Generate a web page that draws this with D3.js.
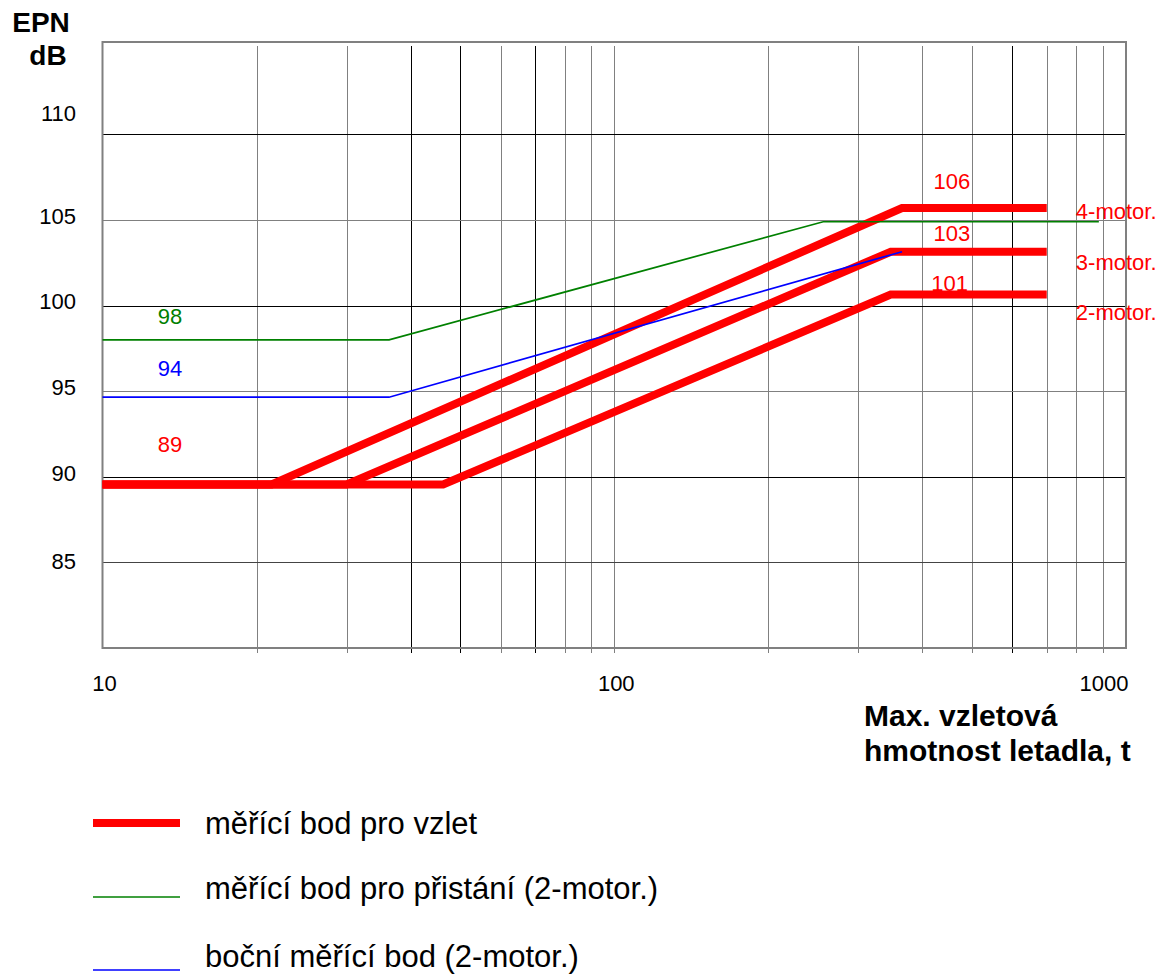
<!DOCTYPE html>
<html>
<head>
<meta charset="utf-8">
<script src="https://cdn.jsdelivr.net/npm/d3@7"></script>
<style>
  body { margin: 0; background: #fff; }
  text { font-family: "Liberation Sans", Arial, sans-serif; }
</style>
</head>
<body>
<div id="chart"></div>
<script>
// data: [max take-off mass t, EPN dB]
var takeoff2 = [[10, 89.55], [46.3, 89.55], [347, 100.65], [700, 100.65]];
var takeoff3 = [[10, 89.55], [30, 89.55], [347, 103.15], [700, 103.15]];
var takeoff4 = [[10, 89.55], [21.4, 89.55], [365, 105.7], [700, 105.7]];
var approach = [[10, 98.0], [36.3, 98.0], [256, 104.9], [885, 104.9]];
var lateral  = [[10, 94.65], [36.3, 94.65], [365, 103.15]];

var yTicks = [85, 90, 95, 100, 105, 110];
var xTickLabels = [10, 100, 1000];
var legendLabels = ["měřící bod pro vzlet", "měřící bod pro přistání (2-motor.)", "boční měřící bod (2-motor.)"];

// value labels, placed in data space [t, dB]
var valueLabels = [
  {text: "98", t: 13.55, db: 99.36, color: "#008000"},
  {text: "94", t: 13.55, db: 96.32, color: "#0000ff"},
  {text: "89", t: 13.55, db: 91.88, color: "#ff0000"},
  {text: "106", t: 457, db: 107.24, color: "#ff0000"},
  {text: "103", t: 457, db: 104.2, color: "#ff0000"},
  {text: "101", t: 452, db: 101.28, color: "#ff0000"}
];
var motorLabels = [
  {text: "4-motor.", t: 798, db: 105.49},
  {text: "3-motor.", t: 798, db: 102.51},
  {text: "2-motor.", t: 798, db: 99.59}
];

var W = 1162, H = 974;
var svg = d3.select("#chart").append("svg")
  .attr("width", W)
  .attr("height", H);

svg.append("rect").attr("width", W).attr("height", H).attr("fill", "#fff");

var x = d3.scaleLog().domain([10, 1000]).range([102.5, 1126]);
var y = d3.scaleLinear().domain([80, 115.4]).range([648, 42]);

// vertical grid (minor log ticks) with little tick stubs below
var blackV = [40, 50, 70, 600];
svg.append("g").selectAll("line")
  .data(x.ticks().filter(d => d > 10 && d < 1000))
  .enter().append("line")
  .attr("x1", d => Math.round(x(d)) + 0.5)
  .attr("x2", d => Math.round(x(d)) + 0.5)
  .attr("y1", y(115.4) + 4)
  .attr("y2", y(80) + 5)
  .attr("stroke", d => blackV.indexOf(d) >= 0 ? "#000" : "#808080")
  .attr("stroke-width", 1);

// horizontal grid
svg.append("g").selectAll("line")
  .data(yTicks)
  .enter().append("line")
  .attr("x1", x(10))
  .attr("x2", x(1000))
  .attr("y1", d => Math.round(y(d)) + 0.5)
  .attr("y2", d => Math.round(y(d)) + 0.5)
  .attr("stroke", d => d % 10 == 0 ? "#000" : (d == 85 ? "#444" : "#808080"))
  .attr("stroke-width", 1);

// frame
svg.append("rect")
  .attr("x", x(10))
  .attr("y", y(115.4))
  .attr("width", x(1000) - x(10))
  .attr("height", y(80) - y(115.4))
  .attr("fill", "none")
  .attr("stroke", "#808080")
  .attr("stroke-width", 2);

// y tick labels (the top one sits higher in the original)
var labelNudge = {110: -17, 90: 0, 85: 3};
svg.append("g").selectAll("text")
  .data(yTicks)
  .enter().append("text")
  .attr("x", 76)
  .attr("y", d => y(d) - 4 + (labelNudge[d] || 0))
  .attr("dy", "0.35em")
  .attr("text-anchor", "end")
  .style("font-size", "22px")
  .text(d => d);

// x tick labels
svg.append("g").selectAll("text")
  .data(xTickLabels)
  .enter().append("text")
  .attr("x", d => x(d) + (d == 1000 ? -22 : 2))
  .attr("y", 683)
  .attr("dy", "0.35em")
  .attr("text-anchor", "middle")
  .style("font-size", "22px")
  .text(d => d);

// axis titles
svg.append("text").attr("x", 41).attr("y", 32).attr("text-anchor", "middle")
  .style("font-size", "28px").style("font-weight", "bold").text("EPN");
svg.append("text").attr("x", 48).attr("y", 65).attr("text-anchor", "middle")
  .style("font-size", "28px").style("font-weight", "bold").text("dB");
svg.append("text").attr("x", 864).attr("y", 726)
  .style("font-size", "30px").style("font-weight", "bold").text("Max. vzletová");
svg.append("text").attr("x", 864).attr("y", 761)
  .style("font-size", "30px").style("font-weight", "bold").text("hmotnost letadla, t");

var line = d3.line().x(d => x(d[0])).y(d => y(d[1]));

// take-off lines (thick red), drawn first
[takeoff2, takeoff3, takeoff4].forEach(function(s) {
  svg.append("path")
    .attr("d", line(s))
    .attr("fill", "none")
    .attr("stroke", "#ff0000")
    .attr("stroke-width", 8)
    .attr("stroke-linejoin", "miter");
});

svg.append("path")
  .attr("d", line(approach))
  .attr("fill", "none")
  .attr("stroke", "#008000")
  .attr("stroke-width", 1.7);

svg.append("path")
  .attr("d", line(lateral))
  .attr("fill", "none")
  .attr("stroke", "#0000ff")
  .attr("stroke-width", 1.7);

// value labels
svg.append("g").selectAll("text")
  .data(valueLabels)
  .enter().append("text")
  .attr("x", d => x(d.t))
  .attr("y", d => y(d.db))
  .attr("dy", "0.35em")
  .attr("text-anchor", "middle")
  .attr("fill", d => d.color)
  .style("font-size", "22px")
  .text(d => d.text);

svg.append("g").selectAll("text")
  .data(motorLabels)
  .enter().append("text")
  .attr("x", d => x(d.t))
  .attr("y", d => y(d.db))
  .attr("dy", "0.35em")
  .attr("fill", "#ff0000")
  .style("font-size", "22px")
  .text(d => d.text);

// legend
var legendStyle = [
  {color: "#ff0000", width: 8, lineY: 823, textY: 823},
  {color: "#008000", width: 1.7, lineY: 897, textY: 888},
  {color: "#0000ff", width: 1.7, lineY: 970, textY: 956}
];
var legend = svg.append("g").selectAll("g")
  .data(legendLabels)
  .enter().append("g");

legend.append("line")
  .attr("x1", 93).attr("x2", 180)
  .attr("y1", (d, i) => legendStyle[i].lineY)
  .attr("y2", (d, i) => legendStyle[i].lineY)
  .attr("stroke", (d, i) => legendStyle[i].color)
  .attr("stroke-width", (d, i) => legendStyle[i].width);

legend.append("text")
  .attr("x", 205)
  .attr("y", (d, i) => legendStyle[i].textY)
  .attr("dy", "0.35em")
  .style("font-size", "31px")
  .text(d => d);
</script>
</body>
</html>
